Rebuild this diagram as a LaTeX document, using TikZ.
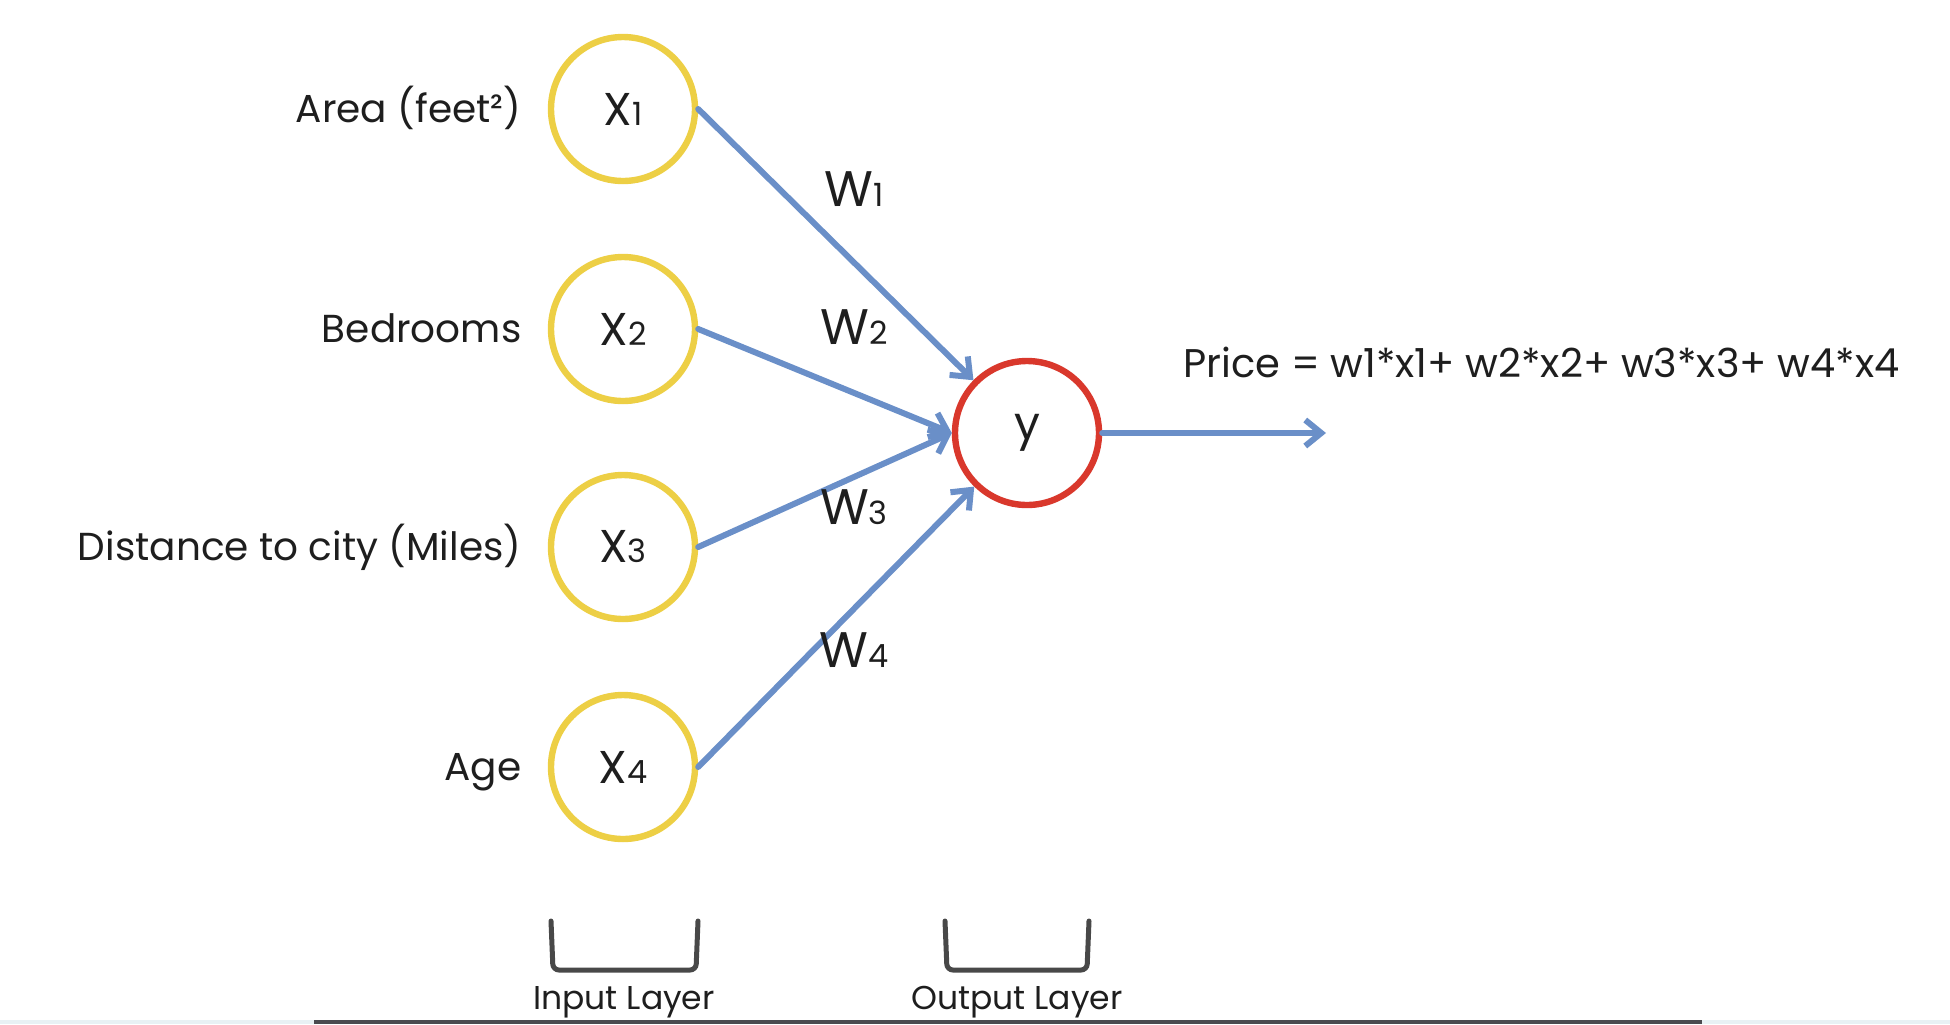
\documentclass[tikz,border=0pt]{standalone}
\usepackage{fontspec}
\setmainfont{Poppins}
\usetikzlibrary{positioning,arrows.meta,shadows}
\usepackage{xcolor}
\definecolor{nnInk}{HTML}{1E1E1E}
\definecolor{nnGold}{HTML}{EDCF45}
\definecolor{nnRed}{HTML}{D9382C}
\definecolor{nnBlue}{HTML}{6A8FC8}
\definecolor{nnBracket}{HTML}{484848}
\definecolor{nnRule}{HTML}{4A4A4F}
\definecolor{nnMist}{HTML}{E8F1F4}
\newcommand{\lowdigit}[1]{{\fontsize{16}{17}\selectfont #1}}
\tikzset{
  unitin/.style   = {circle, draw=nnGold, line width=3.2pt, fill=white,
                     minimum size=72pt, inner sep=0, text=nnInk,
                     font=\fontsize{23}{26}\selectfont,
                     drop shadow={opacity=0.12, shadow xshift=0pt, shadow yshift=-1.5pt}},
  unitout/.style  = {unitin, draw=nnRed},
  wire/.style     = {line width=3pt, color=nnBlue,
                     -{Straight Barb[length=8pt,width=13pt,line width=3pt]}},
  feat/.style     = {font=\fontsize{19.5}{22}\selectfont, text=nnInk, inner sep=0,
                     text height=13.6pt, text depth=0pt},
  wlbl/.style     = {font=\fontsize{25}{27}\selectfont, text=nnInk, inner sep=0},
  price/.style    = {font=\fontsize{20}{23}\selectfont, text=nnInk, inner sep=0},
  layer/.style    = {line width=2.5pt, color=nnBracket, rounded corners=3pt},
  layerlbl/.style = {font=\fontsize{16.5}{19}\selectfont, text=nnInk, inner sep=0},
}

\begin{document}
\begin{tikzpicture}[x=0.5pt, y=-0.5pt, line cap=round]

% frame: 1 unit = 1 pixel of the 1950 x 1024 slide
\useasboundingbox (0,0) rectangle (1950,1024);

% --- input layer ---
\node[unitin] (x1) at (623,109) {X\lowdigit{1}};
\node[unitin] (x2) at (623,329) {X\lowdigit{2}};
\node[unitin] (x3) at (623,547) {X\lowdigit{3}};
\node[unitin] (x4) at (623,767) {X\lowdigit{4}};

% feature names
\node[feat, left=13pt of x1] (fArea) {Area (feet²)};
\node[feat, left=13pt of x2] (fBed)  {Bedrooms};
\node[feat, left=13pt of x3] (fDist) {Distance to city (Miles)};
\node[feat, left=13pt of x4] (fAge)  {Age};

% --- output layer ---
\node[unitout] (y) at (1027,433) {y};
\coordinate (yout) at (1326,433);

% weighted inputs
\draw[wire] (x1.east) -- (y);
\draw[wire] (x2.east) -- (y.west);
\draw[wire] (x3.east) -- (y.west);
\draw[wire] (x4.east) -- (y);
\draw[wire] (y) -- (yout);

% weight labels
\node[wlbl] (w1) at (854,189) {W\lowdigit{1}};
\node[wlbl] (w2) at (854,327) {W\lowdigit{2}};
\node[wlbl] (w3) at (854,507) {W\lowdigit{3}};
\node[wlbl] (w4) at (854,650) {W\lowdigit{4}};

% the weighted sum
\node[price, anchor=west] (sum) at (1183,362)
  {Price = w1*x1+ w2*x2+ w3*x3+ w4*x4};

% --- layer brackets ---
\draw[layer] (551,921) -- (553,970) -- (696,970) -- (698,921);
\draw[layer] (945,921) -- (947,970) -- (1087,970) -- (1089,921);
\node[layerlbl] (lIn)  at (624,1002) {Input Layer};
\node[layerlbl] (lOut) at (1017,1002) {Output Layer};

% bottom rule
\fill[nnMist] (0,1020) rectangle (314,1024);
\fill[nnMist] (1702,1020) rectangle (1950,1024);
\fill[nnRule] (314,1020) rectangle (1702,1024);

\end{tikzpicture}
\end{document}
